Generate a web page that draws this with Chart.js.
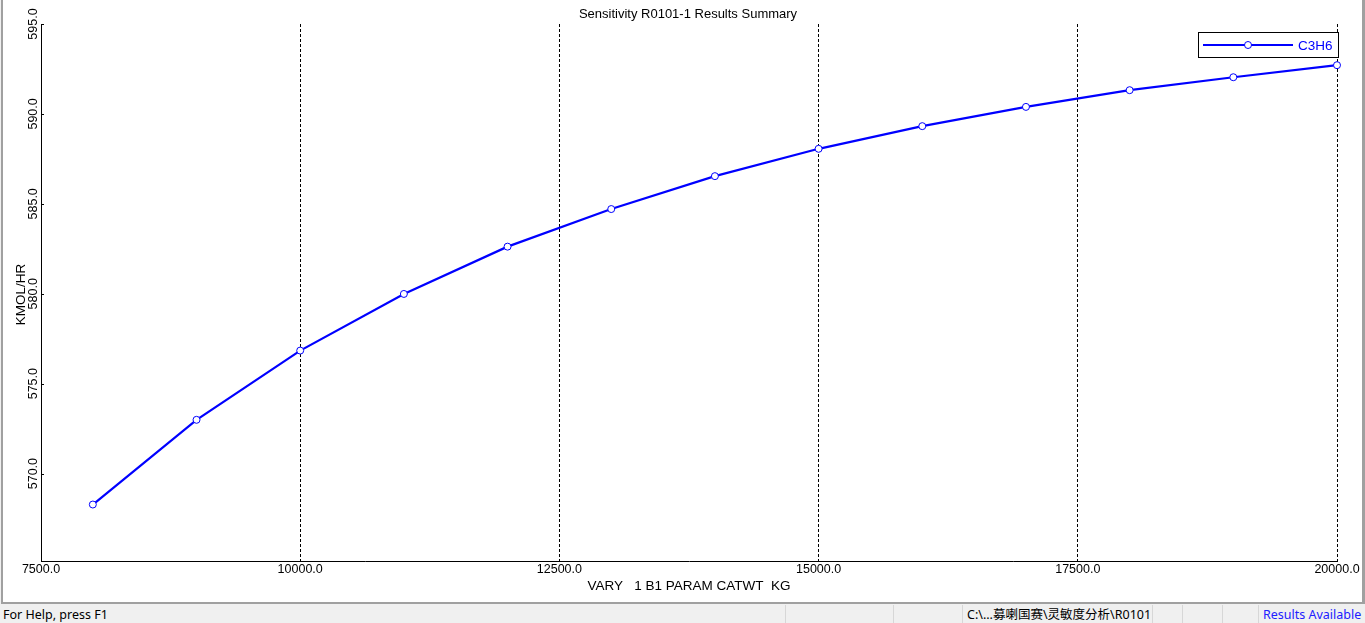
<!DOCTYPE html>
<html>
<head>
<meta charset="utf-8">
<script src="https://cdn.jsdelivr.net/npm/chart.js@4"></script>
<style>
  html, body { margin: 0; padding: 0; background: #f0f0f0; }
  body { width: 1365px; height: 623px; position: relative; overflow: hidden; font-family: "Liberation Sans", Arial, sans-serif; }
  #frame { position: absolute; left: 1px; top: 0; width: 1359px; height: 602px; background: #fff;
           border-left: 2px solid #a0a0a0; border-right: 3px solid #a0a0a0; border-bottom: 2px solid #a0a0a0; }
  #wrap { position: absolute; left: 0; top: 0; width: 1357px; height: 602px; }
  #status { position: absolute; left: 0; top: 605px; width: 1365px; height: 18px; background: #f0f0f0;
            font-family: "Noto Sans", sans-serif; font-size: 12.5px; color: #000; }
  .sep { position: absolute; top: 0; width: 1px; height: 18px; background: #d7d7d7; }
  .st { position: absolute; top: 0; line-height: 20px; white-space: nowrap; }
</style>
</head>
<body>
<div id="frame"><div id="wrap"><canvas id="c"></canvas></div></div>
<div id="status">
  <div class="st" style="left:3px;">For Help, press F1</div>
  <div class="sep" style="left:785px;"></div>
  <div class="sep" style="left:893px;"></div>
  <div class="sep" style="left:962px;"></div>
  <div class="st" style="left:967px;font-family:'Noto Sans','Noto Sans CJK SC',sans-serif;">C:\...募喇国赛\灵敏度分析\R0101</div>
  <div class="sep" style="left:1152px;"></div>
  <div class="sep" style="left:1182px;"></div>
  <div class="sep" style="left:1222px;"></div>
  <div class="sep" style="left:1258px;"></div>
  <div class="st" style="left:1263px;color:#2020ff;">Results Available</div>
</div>
<script>
// ---- data ----
const xValues = [8000, 9000, 10000, 11000, 12000, 13000, 14000, 15000, 16000, 17000, 18000, 19000, 20000];
const c3h6 = [568.28, 572.99, 576.84, 579.99, 582.62, 584.71, 586.54, 588.06, 589.32, 590.39, 591.32, 592.04, 592.71];
const xTicks = [7500, 10000, 12500, 15000, 17500, 20000];
const yTicks = [570, 575, 580, 585, 590, 595];
const seriesLabel = 'C3H6';
const chartTitle = 'Sensitivity R0101-1 Results Summary';
const xTitle = 'VARY   1 B1 PARAM CATWT  KG';
const yTitle = 'KMOL/HR';

const FONT = '"Liberation Sans", Arial, sans-serif';
const BLUE = '#0000ff';

const decorPlugin = {
  id: 'decor',
  afterDraw(chart) {
    const ctx = chart.ctx;
    const area = chart.chartArea;
    const xs = chart.scales.x, ys = chart.scales.y;
    ctx.save();
    ctx.fillStyle = '#000';
    ctx.strokeStyle = '#000';
    ctx.lineWidth = 1;
    // y tick marks (inward) and rotated labels
    ctx.font = '12.5px ' + FONT;
    ys.ticks.forEach(t => {
      const py = Math.round(ys.getPixelForValue(t.value)) + 0.5;
      ctx.beginPath();
      ctx.moveTo(area.left, py);
      ctx.lineTo(area.left + 3, py);
      ctx.stroke();
      ctx.save();
      ctx.translate(area.left - 3, ys.getPixelForValue(t.value));
      ctx.rotate(-Math.PI / 2);
      ctx.textAlign = 'center';
      ctx.textBaseline = 'bottom';
      ctx.fillText(t.value.toFixed(1), 0, 2);
      ctx.restore();
    });
    // x tick labels
    ctx.textAlign = 'center';
    ctx.textBaseline = 'middle';
    xs.ticks.forEach(t => {
      ctx.fillText(t.value.toFixed(1), xs.getPixelForValue(t.value), area.bottom + 9);
    });
    // axis titles
    ctx.font = '13.5px ' + FONT;
    ctx.fillText(xTitle, (area.left + area.right) / 2, area.bottom + 25);
    ctx.save();
    ctx.translate(area.left - 20, (area.top + area.bottom) / 2 + 2);
    ctx.rotate(-Math.PI / 2);
    ctx.fillText(yTitle, 0, 0);
    ctx.restore();
    // chart title
    ctx.font = '13px ' + FONT;
    ctx.fillText(chartTitle, (area.left + area.right) / 2 - 1, 14);
    // legend
    const ds = chart.data.datasets[0];
    const bx = area.right - 139, by = 32, bw = 140, bh = 25;
    ctx.fillStyle = '#fff';
    ctx.fillRect(bx, by, bw, bh);
    ctx.strokeStyle = '#000';
    ctx.lineWidth = 1;
    ctx.strokeRect(Math.round(bx) + 0.5, by + 0.5, bw, bh);
    const ly = by + 13;
    ctx.strokeStyle = ds.borderColor;
    ctx.lineWidth = 2;
    ctx.beginPath();
    ctx.moveTo(bx + 5, ly);
    ctx.lineTo(bx + 95, ly);
    ctx.stroke();
    ctx.beginPath();
    ctx.arc(bx + 50, ly, 3.5, 0, Math.PI * 2);
    ctx.fillStyle = '#fff';
    ctx.fill();
    ctx.lineWidth = 1;
    ctx.stroke();
    ctx.fillStyle = ds.borderColor;
    ctx.font = '13.5px ' + FONT;
    ctx.textAlign = 'left';
    ctx.textBaseline = 'middle';
    ctx.fillText(ds.label, bx + 100, ly + 1);
    ctx.restore();
  }
};

new Chart(document.getElementById('c'), {
  type: 'line',
  data: {
    datasets: [{
      label: seriesLabel,
      data: xValues.map((x, i) => ({ x: x, y: c3h6[i] })),
      borderColor: BLUE,
      backgroundColor: '#fff',
      borderWidth: 2.2,
      pointRadius: 3.5,
      pointHoverRadius: 3.5,
      pointBorderWidth: 1,
      pointBackgroundColor: '#fff',
      pointBorderColor: BLUE,
      tension: 0,
      clip: false
    }]
  },
  options: {
    responsive: true,
    maintainAspectRatio: false,
    animation: false,
    events: [],
    layout: { padding: { left: 38, right: 23, top: 24, bottom: 41 } },
    plugins: { legend: { display: false }, title: { display: false }, tooltip: { enabled: false } },
    scales: {
      x: {
        type: 'linear',
        min: xTicks[0],
        max: xTicks[xTicks.length - 1],
        afterBuildTicks: s => { s.ticks = xTicks.map(v => ({ value: v })); },
        ticks: { display: false },
        grid: {
          display: true,
          drawTicks: false,
          drawOnChartArea: true,
          lineWidth: 1,
          color: c => (c.tick && c.tick.value === xTicks[0]) ? 'rgba(0,0,0,0)' : '#000'
        },
        border: { display: true, color: '#000', width: 1, dash: [3, 2] }
      },
      y: {
        type: 'linear',
        min: 565.14,
        max: yTicks[yTicks.length - 1],
        afterBuildTicks: s => { s.ticks = yTicks.map(v => ({ value: v })); },
        ticks: { display: false },
        grid: { display: true, drawTicks: false, drawOnChartArea: false, color: 'rgba(0,0,0,0)' },
        border: { display: true, color: '#000', width: 1 }
      }
    }
  },
  plugins: [decorPlugin]
});
</script>
</body>
</html>
